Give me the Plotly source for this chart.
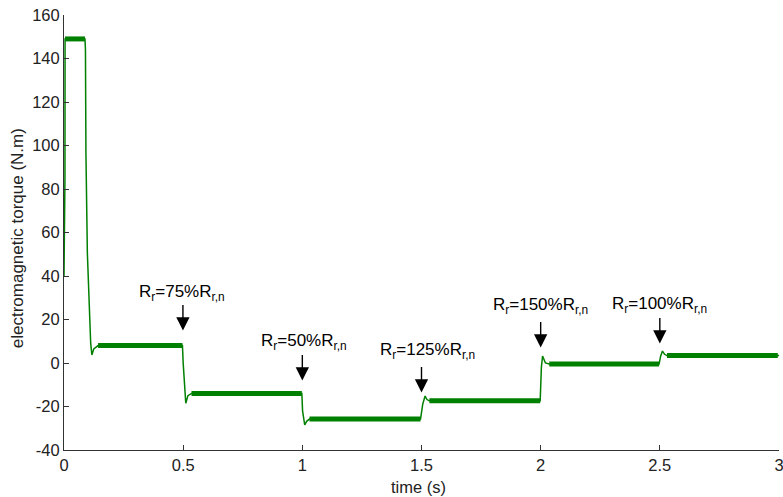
import plotly.graph_objects as go

# ---- data ----
time_s = [0.0, 0.004, 0.0045, 0.088, 0.090, 0.092, 0.098, 0.106, 0.112, 0.117, 0.125, 0.143,
          0.497, 0.500, 0.504, 0.511, 0.520, 0.535,
          0.998, 1.001, 1.010, 1.018, 1.030,
          1.496, 1.505, 1.515, 1.523, 1.533,
          1.998, 2.003, 2.008, 2.020, 2.036,
          2.497, 2.503, 2.511, 2.520, 2.530, 3.0]
torque = [40.0, 85.0, 149.0, 149.0, 144.0, 96.5, 50.6, 21.0, 9.0, 3.7, 6.5, 8.0,
          8.0, 0.0, -9.0, -18.5, -15.0, -14.0,
          -14.0, -22.0, -28.5, -26.8, -25.8,
          -25.8, -19.0, -15.2, -16.8, -17.4,
          -17.4, -2.0, 3.2, 0.0, -0.5,
          -0.5, 3.0, 5.5, 4.0, 3.4, 3.4]

# steady-state intervals (thick ripple band)
steady_start = [0.004, 0.143, 0.535, 1.030, 1.533, 2.036, 2.530]
steady_end = [0.088, 0.497, 0.998, 1.496, 1.998, 2.497, 2.995]
steady_level = [149.0, 8.0, -14.0, -25.8, -17.4, -0.5, 3.4]

# annotations
ann_labels = ["R<sub>r</sub>=75%R<sub>r,n</sub>", "R<sub>r</sub>=50%R<sub>r,n</sub>",
              "R<sub>r</sub>=125%R<sub>r,n</sub>", "R<sub>r</sub>=150%R<sub>r,n</sub>",
              "R<sub>r</sub>=100%R<sub>r,n</sub>"]
ann_text_x = [0.496, 1.006, 1.527, 2.0, 2.497]
ann_text_y = [33.3, 10.5, 6.4, 26.9, 27.6]
arrow_x = [0.499, 1.0, 1.5, 2.0, 2.5]
arrow_y = [14.9, -8.1, -13.6, 7.1, 9.0]

x_ticks = [0, 0.5, 1, 1.5, 2, 2.5, 3]
x_tick_text = ["0", "0.5", "1", "1.5", "2", "2.5", "3"]
y_ticks = [-40, -20, 0, 20, 40, 60, 80, 100, 120, 140, 160]
y_tick_text = ["-40", "-20", "0", "20", "40", "60", "80", "100", "120", "140", "160"]

x_title = "time (s)"
y_title = "electromagnetic torque (N.m)"

GREEN = "#008000"
FONT = "Liberation Sans, Arial, sans-serif"

fig = go.Figure()
fig.add_trace(go.Scatter(x=time_s, y=torque, mode="lines",
                         line=dict(color=GREEN, width=1.5), showlegend=False,
                         hoverinfo="skip"))

sx, sy = [], []
for a, b, v in zip(steady_start, steady_end, steady_level):
    sx += [a, b, None]
    sy += [v, v, None]
fig.add_trace(go.Scatter(x=sx, y=sy, mode="lines",
                         line=dict(color=GREEN, width=5), showlegend=False,
                         hoverinfo="skip"))

annotations = []
for lab, tx, ty, axp, ayp in zip(ann_labels, ann_text_x, ann_text_y, arrow_x, arrow_y):
    annotations.append(dict(x=tx, y=ty, xref="x", yref="y", text=lab, showarrow=False,
                            xanchor="center", yanchor="middle", yshift=-2,
                            font=dict(family=FONT, size=17, color="black")))
    annotations.append(dict(x=axp, y=ayp, xref="x", yref="y", text="", showarrow=True,
                            ax=0, ay=-27, arrowhead=2, arrowsize=1.9, arrowwidth=1.4,
                            arrowcolor="black"))

# axis titles placed in paper coordinates
annotations.append(dict(x=0.496, y=-0.085, xref="paper", yref="paper", text=x_title,
                        showarrow=False, xanchor="center", yanchor="middle",
                        font=dict(family=FONT, size=16.5, color="#222")))
annotations.append(dict(x=-0.0656, y=0.487, xref="paper", yref="paper", text=y_title,
                        showarrow=False, xanchor="center", yanchor="middle", textangle=-90,
                        font=dict(family=FONT, size=17, color="#222")))

fig.update_layout(
    width=783, height=497,
    margin=dict(l=64, r=4, t=15, b=47, autoexpand=False),
    paper_bgcolor="white", plot_bgcolor="white",
    font=dict(family=FONT, size=16, color="#222"),
    annotations=annotations,
    showlegend=False,
)
fig.update_xaxes(range=[0, 3], tickvals=x_ticks, ticktext=x_tick_text,
                 showgrid=False, zeroline=False, showline=True, linecolor="#333",
                 linewidth=1, ticks="inside", ticklen=5, tickcolor="#333",
                 tickfont=dict(size=16.5), automargin=False, ticklabeloverflow="allow")
fig.update_yaxes(range=[-40, 160], tickvals=y_ticks, ticktext=y_tick_text,
                 showgrid=False, zeroline=False, showline=True, linecolor="#333",
                 linewidth=1, ticks="inside", ticklen=5, tickcolor="#333",
                 tickfont=dict(size=16.5), automargin=False)

fig.write_html(
    "out.html",
    config={"displayModeBar": False},
    post_script="document.body.style.margin='0';document.body.style.padding='0';"
                "document.body.style.overflow='hidden';",
)
